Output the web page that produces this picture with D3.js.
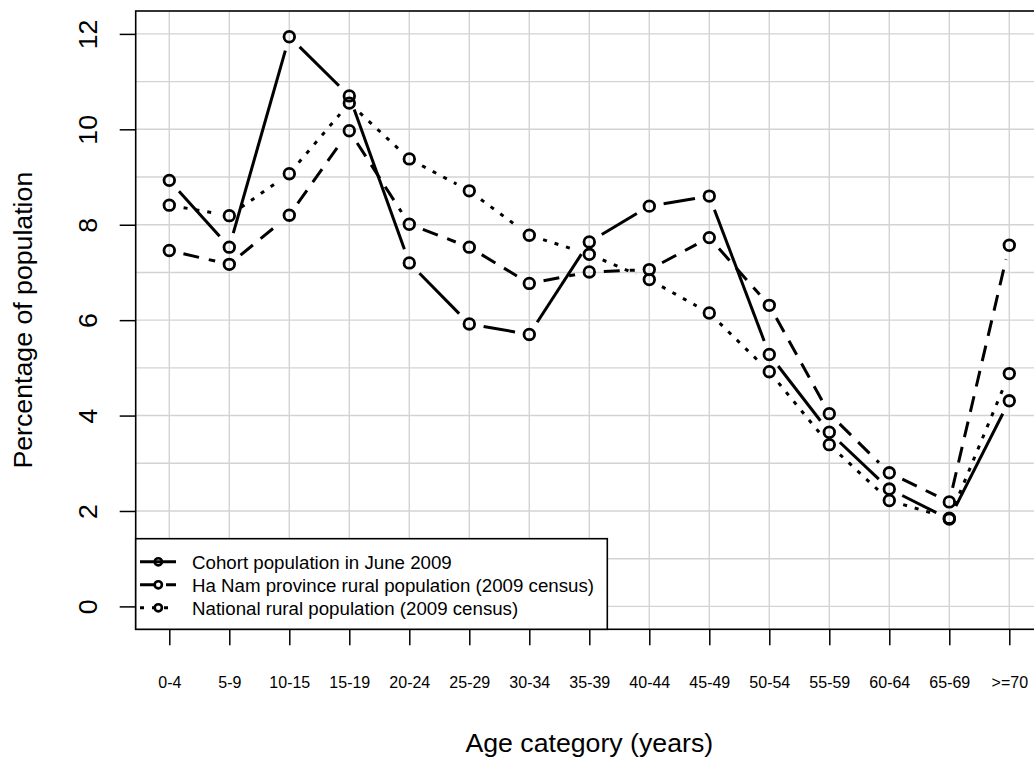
<!DOCTYPE html>
<html>
<head>
<meta charset="utf-8">
<script src="https://cdn.jsdelivr.net/npm/d3@7"></script>
<style>
  body { margin: 0; background: #fff; }
  svg text { font-family: "Liberation Sans", Arial, Helvetica, sans-serif; fill: #000; }
</style>
</head>
<body>
<script>
const ageGroups = ['0-4', '5-9', '10-15', '15-19', '20-24', '25-29', '30-34', '35-39',
  '40-44', '45-49', '50-54', '55-59', '60-64', '65-69', '>=70'];

const cohort   = [8.93, 7.53, 11.94, 10.70, 7.20, 5.92, 5.70, 7.64, 8.39, 8.60, 5.28, 3.65, 2.46, 1.83, 4.31];
const haNam    = [7.46, 7.17, 8.20, 9.97, 8.01, 7.53, 6.77, 7.01, 7.06, 7.73, 6.31, 4.04, 2.80, 2.19, 7.57];
const national = [8.41, 8.19, 9.07, 10.55, 9.38, 8.71, 7.78, 7.38, 6.85, 6.15, 4.92, 3.39, 2.22, 1.85, 4.88];

const yTicks = [0, 2, 4, 6, 8, 10, 12];
const yGrid = d3.range(0, 13);

const seriesNames = ['Cohort population in June 2009',
  'Ha Nam province rural population (2009 census)',
  'National rural population (2009 census)'];

const width = 1034, height = 763;
const plot = {left: 135.7, right: 1042.9, top: 11, bottom: 629.3};

const svg = d3.select('body')
  .append('svg')
  .attr('width', width)
  .attr('height', height);

const x = d3.scalePoint()
  .domain(ageGroups)
  .range([plot.left, plot.right])
  .padding(0.56);

const y = d3.scaleLinear()
  .domain([-0.48, 12.48])
  .range([plot.bottom, plot.top]);

/* grid */
const grid = svg.append('g')
  .attr('stroke', '#d3d3d3')
  .attr('stroke-width', 1.4);

grid.selectAll('line.v')
  .data(ageGroups)
  .enter()
  .append('line')
  .attr('x1', d => x(d)).attr('x2', d => x(d))
  .attr('y1', plot.top).attr('y2', plot.bottom);

grid.selectAll('line.h')
  .data(yGrid)
  .enter()
  .append('line')
  .attr('x1', plot.left).attr('x2', plot.right)
  .attr('y1', d => y(d)).attr('y2', d => y(d));

/* series: R style type="b", segments stop short of the points */
const series = [
  {name: seriesNames[0], values: cohort, dash: null},
  {name: seriesNames[1], values: haNam, dash: '16,10'},
  {name: seriesNames[2], values: national, dash: '4,8'}
];

const gap = 14.5;

series.forEach(s => {
  const pts = s.values.map((v, i) => [x(ageGroups[i]), y(v)]);
  const segs = [];
  for (let i = 0; i < pts.length - 1; i++) {
    const [x0, y0] = pts[i], [x1, y1] = pts[i + 1];
    const len = Math.hypot(x1 - x0, y1 - y0);
    if (len <= 2 * gap) continue;
    const ux = (x1 - x0) / len, uy = (y1 - y0) / len;
    segs.push([x0 + ux * gap, y0 + uy * gap, x1 - ux * gap, y1 - uy * gap]);
  }

  const g = svg.append('g');

  g.selectAll('line')
    .data(segs)
    .enter()
    .append('line')
    .attr('x1', d => d[0]).attr('y1', d => d[1])
    .attr('x2', d => d[2]).attr('y2', d => d[3])
    .attr('stroke', '#000')
    .attr('stroke-width', 3)
    .attr('stroke-dasharray', s.dash);

  g.selectAll('circle')
    .data(s.values)
    .enter()
    .append('circle')
    .attr('cx', (d, i) => x(ageGroups[i]))
    .attr('cy', d => y(d))
    .attr('r', 5.3)
    .attr('fill', 'none')
    .attr('stroke', '#000')
    .attr('stroke-width', 2.8);
});

/* axes */
const xAxis = svg.append('g')
  .attr('transform', `translate(0,${plot.bottom})`)
  .call(d3.axisBottom(x).tickSize(16).tickPadding(31.3));
xAxis.select('.domain').remove();
xAxis.selectAll('line').attr('stroke', '#000').attr('stroke-width', 1.5);
xAxis.selectAll('text')
  .attr('font-size', 16)
  .attr('font-family', '"Liberation Sans", Arial, sans-serif')
  .attr('fill', '#000');

const yAxis = svg.append('g')
  .attr('transform', `translate(${plot.left},0)`)
  .call(d3.axisLeft(y).tickValues(yTicks).tickSize(16));
yAxis.select('.domain').remove();
yAxis.selectAll('line').attr('stroke', '#000').attr('stroke-width', 1.5);
yAxis.selectAll('text')
  .attr('font-size', 26.7)
  .attr('font-family', '"Liberation Sans", Arial, sans-serif')
  .attr('fill', '#000')
  .attr('transform', 'rotate(-90)')
  .attr('x', 0)
  .attr('y', -39)
  .attr('dy', null)
  .attr('text-anchor', 'middle');

/* plot box */
svg.append('rect')
  .attr('x', plot.left)
  .attr('y', plot.top)
  .attr('width', plot.right - plot.left)
  .attr('height', plot.bottom - plot.top)
  .attr('fill', 'none')
  .attr('stroke', '#000')
  .attr('stroke-width', 1.6);

/* axis titles */
svg.append('text')
  .attr('x', (plot.left + plot.right) / 2)
  .attr('y', 752)
  .attr('text-anchor', 'middle')
  .attr('font-size', 26.7)
  .text('Age category (years)');

svg.append('text')
  .attr('transform', `translate(32,${(plot.top + plot.bottom) / 2}) rotate(-90)`)
  .attr('text-anchor', 'middle')
  .attr('font-size', 26.7)
  .text('Percentage of population');

/* legend */
const legend = svg.append('g');
legend.append('rect')
  .attr('x', plot.left)
  .attr('y', 538.7)
  .attr('width', 607.3 - plot.left)
  .attr('height', plot.bottom - 538.7)
  .attr('fill', '#fff')
  .attr('stroke', '#000')
  .attr('stroke-width', 1.6);

const rows = legend.selectAll('g.row')
  .data(series)
  .enter()
  .append('g')
  .attr('transform', (d, i) => `translate(0,${561.8 + i * 23})`);

rows.append('line')
  .attr('x1', 140).attr('x2', 176)
  .attr('y1', 0).attr('y2', 0)
  .attr('stroke', '#000')
  .attr('stroke-width', 3)
  .attr('stroke-dasharray', d => d.dash);

rows.append('circle')
  .attr('cx', 158.3)
  .attr('cy', 0)
  .attr('r', 3.6)
  .attr('fill', 'none')
  .attr('stroke', '#000')
  .attr('stroke-width', 2.6);

rows.append('text')
  .attr('x', 192)
  .attr('y', 6.7)
  .attr('font-size', 18.7)
  .text(d => d.name);
</script>
</body>
</html>
